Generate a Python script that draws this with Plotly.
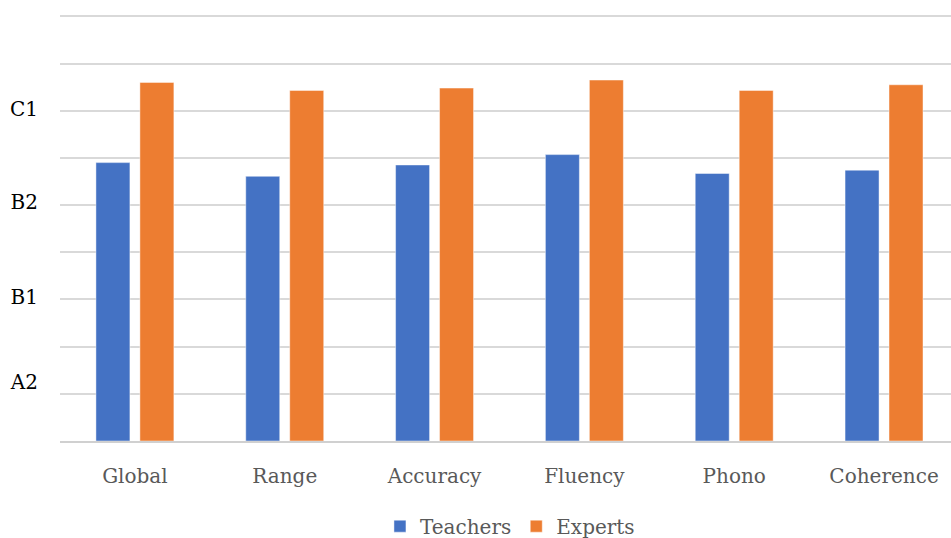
import plotly.graph_objects as go

categories = ["Global", "Range", "Accuracy", "Fluency", "Phono", "Coherence"]
teachers = [5.90, 5.61, 5.85, 6.07, 5.67, 5.74]
experts = [7.60, 7.43, 7.48, 7.65, 7.43, 7.55]
grid_vals = [0, 1, 2, 3, 4, 5, 6, 7, 8, 9]
level_vals = [1.25, 3.05, 5.07, 7.04]
level_labels = ["A2", "B1", "B2", "C1"]

fig = go.Figure()
fig.add_trace(go.Bar(name="Teachers", x=categories, y=teachers,
                     marker=dict(color="#4472C4", line=dict(color="rgba(255,255,255,0.45)", width=1))))
fig.add_trace(go.Bar(name="Experts", x=categories, y=experts,
                     marker=dict(color="#ED7D31", line=dict(color="rgba(255,255,255,0.45)", width=1))))
# invisible trace to carry the level labels axis
fig.add_trace(go.Scatter(x=categories, y=teachers, yaxis="y2", mode="markers",
                         marker=dict(opacity=0), showlegend=False, hoverinfo="skip"))

font_family = "DejaVu Serif"
fig.update_layout(
    width=951, height=538,
    margin=dict(l=60, r=0, t=14, b=97, autoexpand=False),
    paper_bgcolor="white", plot_bgcolor="white",
    barmode="group", bargap=0.413, bargroupgap=0.227,
    font=dict(family=font_family, size=18, color="#595959"),
    xaxis=dict(range=[-0.5, 5.447], showline=True, linecolor="#d0d0d0", linewidth=2,
               showgrid=False, ticks="", tickfont=dict(family=font_family, size=20, color="#595959"),
               ticklabelstandoff=16),
    yaxis=dict(range=[0, 9.05], tickvals=grid_vals, showticklabels=False, showgrid=True,
               gridcolor="#d9d9d9", gridwidth=2, zeroline=False, fixedrange=True),
    yaxis2=dict(range=[0, 9.05], overlaying="y", side="left", tickvals=level_vals, ticktext=level_labels,
                showgrid=False, zeroline=False, ticks="", ticklabelstandoff=21,
                tickfont=dict(family=font_family, size=20, color="#000000")),
    legend=dict(orientation="h", x=0.505, xanchor="center", yref="container", y=0.022, yanchor="middle",
                font=dict(family=font_family, size=20, color="#595959"), itemwidth=30,
                tracegroupgap=0),
    showlegend=True,
)

fig.write_html("out.html")
